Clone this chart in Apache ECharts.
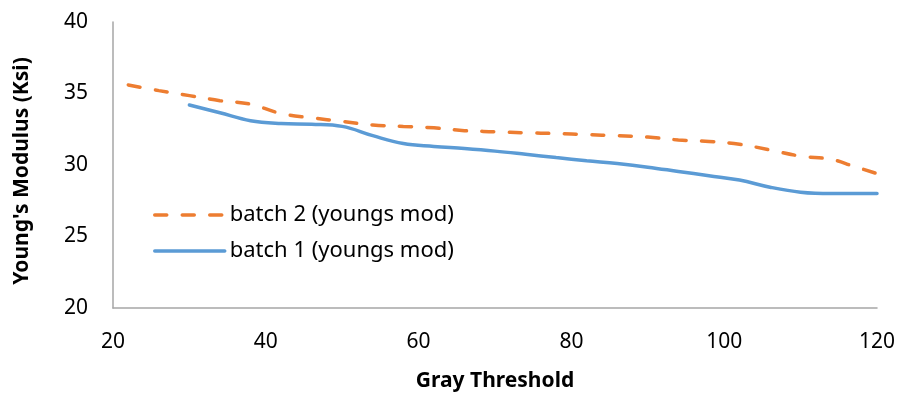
<!DOCTYPE html>
<html>
<head>
<meta charset="utf-8">
<script src="https://cdn.jsdelivr.net/npm/echarts@6/dist/echarts.min.js"></script>
<style>
  html, body { margin: 0; padding: 0; background: #ffffff; }
  #chart { width: 900px; height: 397px; }
</style>
</head>
<body>
<div id="chart"></div>
<script>
// Gray threshold (x) vs. Young's modulus (Ksi) for two batches
const batch2X = [22, 26, 30, 34, 38, 42, 46, 50, 54, 58, 62, 66, 70, 74, 78, 82, 86, 90, 94, 98, 102, 106, 110, 114, 117, 120];
const batch2Y = [35.6, 35.2, 34.85, 34.5, 34.25, 33.6, 33.3, 33.05, 32.8, 32.7, 32.6, 32.4, 32.33, 32.25, 32.2, 32.12, 32.05, 31.95, 31.75, 31.65, 31.45, 31.05, 30.62, 30.4, 29.9, 29.4];

const batch1X = [30, 34, 38, 42, 46, 50, 54, 58, 62, 66, 70, 74, 78, 82, 86, 90, 94, 98, 102, 106, 110, 114, 120];
const batch1Y = [34.2, 33.65, 33.1, 32.9, 32.85, 32.7, 32.05, 31.5, 31.3, 31.15, 30.97, 30.75, 30.52, 30.3, 30.1, 29.85, 29.55, 29.25, 28.95, 28.45, 28.1, 28.0, 28.0];

const xTicks = { min: 20, max: 120, step: 20 };
const yTicks = { min: 20, max: 40, step: 5 };

const seriesNames = ['batch 2 (youngs mod)', 'batch 1 (youngs mod)'];

const pairs = (xs, ys) => xs.map((x, i) => [x, ys[i]]);

const FONT = 'Noto Sans';
const AXIS_GRAY = '#a6a6a6';
const ORANGE = '#ED7D31';
const BLUE = '#5B9BD5';
const DASH = [12, 15.5];

const chart = echarts.init(document.getElementById('chart'), null, { renderer: 'canvas' });

chart.setOption({
  animation: false,
  backgroundColor: '#ffffff',
  textStyle: { fontFamily: FONT },
  grid: { left: 113, right: 23, top: 22, bottom: 89, containLabel: false, outerBoundsMode: 'none' },
  legend: {
    data: seriesNames,
    orient: 'vertical',
    left: 148,
    top: 199,
    itemWidth: 70,
    itemHeight: 14,
    itemGap: 14,
    itemStyle: { opacity: 0 },
    lineStyle: { width: 3.5, cap: 'round' },
    textStyle: { fontFamily: FONT, fontSize: 22, color: '#000000' }
  },
  xAxis: {
    type: 'value',
    min: xTicks.min,
    max: xTicks.max,
    interval: xTicks.step,
    name: 'Gray Threshold',
    nameLocation: 'middle',
    nameGap: 63,
    nameTextStyle: { fontFamily: FONT, fontSize: 21, fontWeight: 'bold', color: '#000000' },
    axisLine: { show: true, lineStyle: { color: AXIS_GRAY, width: 1.5 } },
    axisTick: { show: false },
    splitLine: { show: false },
    axisLabel: { margin: 24, fontFamily: FONT, fontSize: 21, color: '#000000' }
  },
  yAxis: {
    type: 'value',
    min: yTicks.min,
    max: yTicks.max,
    interval: yTicks.step,
    name: "Young's Modulus (Ksi)",
    nameLocation: 'middle',
    nameGap: 80,
    nameRotate: 90,
    nameTextStyle: { fontFamily: FONT, fontSize: 21, fontWeight: 'bold', color: '#000000', padding: [0, 12, 0, 0] },
    axisLine: { show: true, lineStyle: { color: AXIS_GRAY, width: 1.5 } },
    axisTick: { show: false },
    splitLine: { show: false },
    axisLabel: { margin: 25, fontFamily: FONT, fontSize: 21, color: '#000000' }
  },
  series: [
    {
      name: seriesNames[0],
      type: 'line',
      smooth: 0.4,
      symbol: 'none',
      data: pairs(batch2X, batch2Y),
      lineStyle: { color: ORANGE, width: 3.5, type: DASH, cap: 'round' },
      itemStyle: { color: ORANGE }
    },
    {
      name: seriesNames[1],
      type: 'line',
      smooth: 0.4,
      symbol: 'none',
      data: pairs(batch1X, batch1Y),
      lineStyle: { color: BLUE, width: 3.5, cap: 'round' },
      itemStyle: { color: BLUE }
    }
  ]
});
</script>
</body>
</html>
